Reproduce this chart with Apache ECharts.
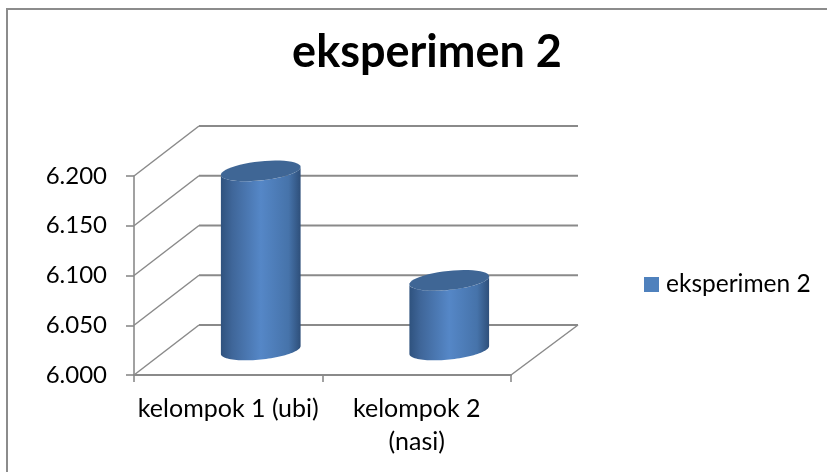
<!DOCTYPE html>
<html>
<head>
<meta charset="utf-8">
<style>
  html, body { margin: 0; padding: 0; background: #fff; }
  #chart { width: 827px; height: 472px; }
</style>
<script src="https://cdn.jsdelivr.net/npm/echarts@6/dist/echarts.min.js"></script>
</head>
<body>
<div id="chart"></div>
<script>
const categories = ['kelompok 1 (ubi)', 'kelompok 2\n(nasi)']
const seriesName = 'eksperimen 2'
const values = [6.18, 6.07]
const wallTicks = [6, 6.05, 6.1, 6.15, 6.2]

// depth of the fake 3d box, in pixels
const depthX = 65
const depthY = -50
const lineColor = '#8a8a8a'
const fontFamily = 'Lato, "Open Sans", sans-serif'

const chart = echarts.init(document.getElementById('chart'))

function renderWall(params, api) {
  const grid = params.coordSys
  const y = api.coord([0, api.value(0)])[1]
  const children = [{
    type: 'polyline',
    shape: {
      points: [
        [grid.x, y],
        [grid.x + depthX, y + depthY]
      ]
    },
    style: { stroke: lineColor, lineWidth: 1.5, fill: null }
  }, {
    type: 'line',
    shape: {
      x1: grid.x + depthX,
      y1: y + depthY,
      x2: grid.x + grid.width + depthX + 2,
      y2: y + depthY
    },
    style: { stroke: lineColor, lineWidth: 2 }
  }]
  // right edge of the floor
  if (params.dataIndex === 0) {
    children.push({
      type: 'line',
      shape: {
        x1: grid.x + grid.width,
        y1: y,
        x2: grid.x + grid.width + depthX + 2,
        y2: y + depthY
      },
      style: { stroke: lineColor, lineWidth: 1.5 }
    })
  }
  return { type: 'group', children }
}

// arc of a tilted ellipse, from angle t1 to t2
function arc(cx, cy, rx, ry, a, t1, t2) {
  const pts = []
  for (let i = 0; i <= 48; i++) {
    const t = t1 + (t2 - t1) * i / 48
    pts.push([
      cx + rx * Math.cos(t) * Math.cos(a) - ry * Math.sin(t) * Math.sin(a),
      cy + rx * Math.cos(t) * Math.sin(a) + ry * Math.sin(t) * Math.cos(a)
    ])
  }
  return pts
}

function renderCylinder(params, api) {
  const base = api.coord([api.value(0), 6])
  const top = api.coord([api.value(0), api.value(1)])
  const rx = api.size([1, 0])[0] * 0.2125
  const ry = 9.5
  const a = -6 * Math.PI / 180
  const t0 = Math.atan(-(ry / rx) * Math.tan(a))
  const cx = base[0] + depthX / 2
  const by = base[1] + depthY / 2
  const ty = top[1] + depthY / 2
  const bottomArc = arc(cx, by, rx, ry, a, t0 + Math.PI, t0)
  const topArc = arc(cx, ty, rx, ry, a, t0, t0 + Math.PI)
  return {
    type: 'group',
    children: [{
      type: 'polygon',
      shape: { points: bottomArc.concat(topArc) },
      style: {
        fill: new echarts.graphic.LinearGradient(0, 0, 1, 0, [
          { offset: 0, color: '#2f527e' },
          { offset: 0.14, color: '#3f6699' },
          { offset: 0.5, color: '#5587c7' },
          { offset: 0.85, color: '#4673aa' },
          { offset: 1, color: '#2e4f7a' }
        ])
      }
    }, {
      type: 'polygon',
      shape: { points: arc(cx, ty, rx, ry, a, 0, Math.PI * 2) },
      style: { fill: '#3f6695' }
    }]
  }
}

chart.setOption({
  animation: false,
  title: {
    text: seriesName,
    left: 422,
    top: 25,
    textAlign: 'center',
    textStyle: { fontFamily, fontSize: 45, fontWeight: 'bold', color: '#000' }
  },
  legend: {
    left: 644,
    top: 272,
    padding: 0,
    icon: 'rect',
    itemWidth: 15,
    itemHeight: 15,
    itemGap: 6,
    data: [{ name: seriesName, itemStyle: { color: '#4f81bd' } }],
    textStyle: { fontFamily, fontSize: 24.5, color: '#000', padding: [0, 0, 0, 2] }
  },
  grid: { left: 134, top: 176, width: 377, height: 199 },
  xAxis: {
    type: 'category',
    data: categories,
    axisLine: { lineStyle: { color: lineColor, width: 2 } },
    axisTick: { show: true, length: 7, lineStyle: { color: lineColor, width: 1.6 } },
    axisLabel: { fontFamily, fontSize: 25, color: '#000', margin: 17, lineHeight: 33, interval: 0 }
  },
  yAxis: {
    type: 'value',
    min: 6,
    max: 6.2,
    interval: 0.05,
    axisLine: { show: true, lineStyle: { color: lineColor, width: 1.6 } },
    axisTick: { show: true, length: 8, lineStyle: { color: lineColor, width: 1.6 } },
    splitLine: { show: false },
    axisLabel: {
      fontFamily,
      fontSize: 24,
      color: '#000',
      margin: 27,
      formatter: v => v.toFixed(3)
    }
  },
  series: [{
    type: 'custom',
    name: 'walls',
    silent: true,
    z: 1,
    coordinateSystem: 'cartesian2d',
    data: wallTicks.map(v => [v]),
    encode: { y: 0 },
    renderItem: renderWall
  }, {
    type: 'custom',
    name: seriesName,
    z: 2,
    coordinateSystem: 'cartesian2d',
    itemStyle: { color: '#4f81bd' },
    data: values.map((v, i) => [i, v]),
    encode: { x: 0, y: 1 },
    renderItem: renderCylinder
  }],
  graphic: [{
    type: 'polyline',
    silent: true,
    shape: { points: [[7, 472], [7, 9], [827, 9]] },
    style: { stroke: '#8c8c8c', lineWidth: 2, fill: null }
  }]
})
</script>
</body>
</html>
